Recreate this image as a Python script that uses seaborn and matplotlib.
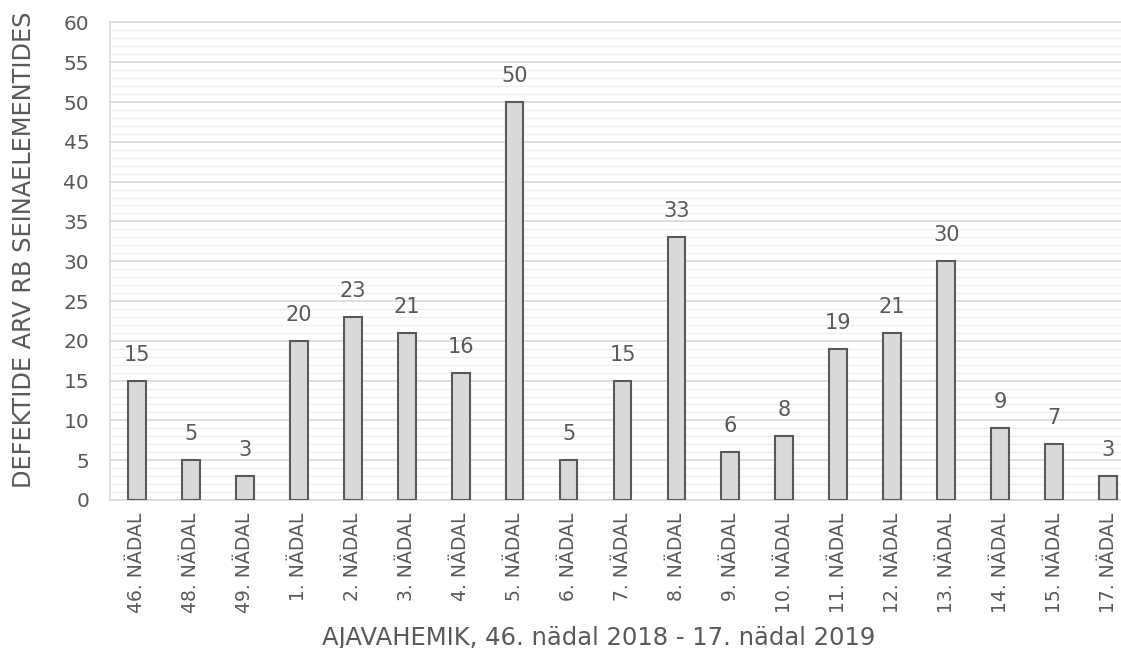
import matplotlib
matplotlib.use("Agg")
import matplotlib.pyplot as plt
import seaborn as sns
import pandas as pd
from matplotlib.ticker import MultipleLocator

weeks = ["46. NÄDAL", "48. NÄDAL", "49. NÄDAL", "1. NÄDAL", "2. NÄDAL", "3. NÄDAL",
         "4. NÄDAL", "5. NÄDAL", "6. NÄDAL", "7. NÄDAL", "8. NÄDAL", "9. NÄDAL",
         "10. NÄDAL", "11. NÄDAL", "12. NÄDAL", "13. NÄDAL", "14. NÄDAL", "15. NÄDAL",
         "17. NÄDAL"]
defects = [15, 5, 3, 20, 23, 21, 16, 50, 5, 15, 33, 6, 8, 19, 21, 30, 9, 7, 3]

df = pd.DataFrame({"week": weeks, "defects": defects})

sns.set_theme(style="white")
plt.rcParams["font.family"] = ["DejaVu Sans"]
text_color = "#595959"

fig = plt.figure(figsize=(11.21, 6.48), dpi=100)
ax = fig.add_axes([0.0981, 0.2284, 0.9144, 0.737])

sns.barplot(data=df, x="week", y="defects", ax=ax, color="#D9D9D9",
            edgecolor="#595959", linewidth=1.5, width=0.33, saturation=1, zorder=3)

ax.set_ylim(0, 60)
ax.set_xlim(-0.5, len(weeks) - 0.5)
ax.yaxis.set_major_locator(MultipleLocator(5))
ax.yaxis.set_minor_locator(MultipleLocator(1))
ax.grid(which="major", axis="y", color="#D9D9D9", linewidth=1.2, zorder=0)
ax.grid(which="minor", axis="y", color="#EFEFEF", linewidth=0.9, zorder=0)
ax.set_axisbelow(True)

for s in ax.spines.values():
    s.set_color("#D9D9D9")
    s.set_linewidth(1.2)

ax.tick_params(axis="y", labelsize=14.5, colors=text_color, length=0, pad=15)
ax.tick_params(axis="x", labelsize=13.5, colors=text_color, length=0, pad=9, rotation=90)

for i, v in enumerate(defects):
    ax.text(i, v + 2.0, str(v), ha="center", va="bottom", fontsize=15, color=text_color)

ax.set_xlabel("AJAVAHEMIK, 46. nädal 2018 - 17. nädal 2019", fontsize=17.5,
              color=text_color)
ax.xaxis.set_label_coords(0.477, -0.264)
ax.set_ylabel("DEFEKTIDE ARV RB SEINAELEMENTIDES", fontsize=17.3,
              color=text_color, labelpad=20, y=0.525)

fig.savefig("out.png", dpi=100)
